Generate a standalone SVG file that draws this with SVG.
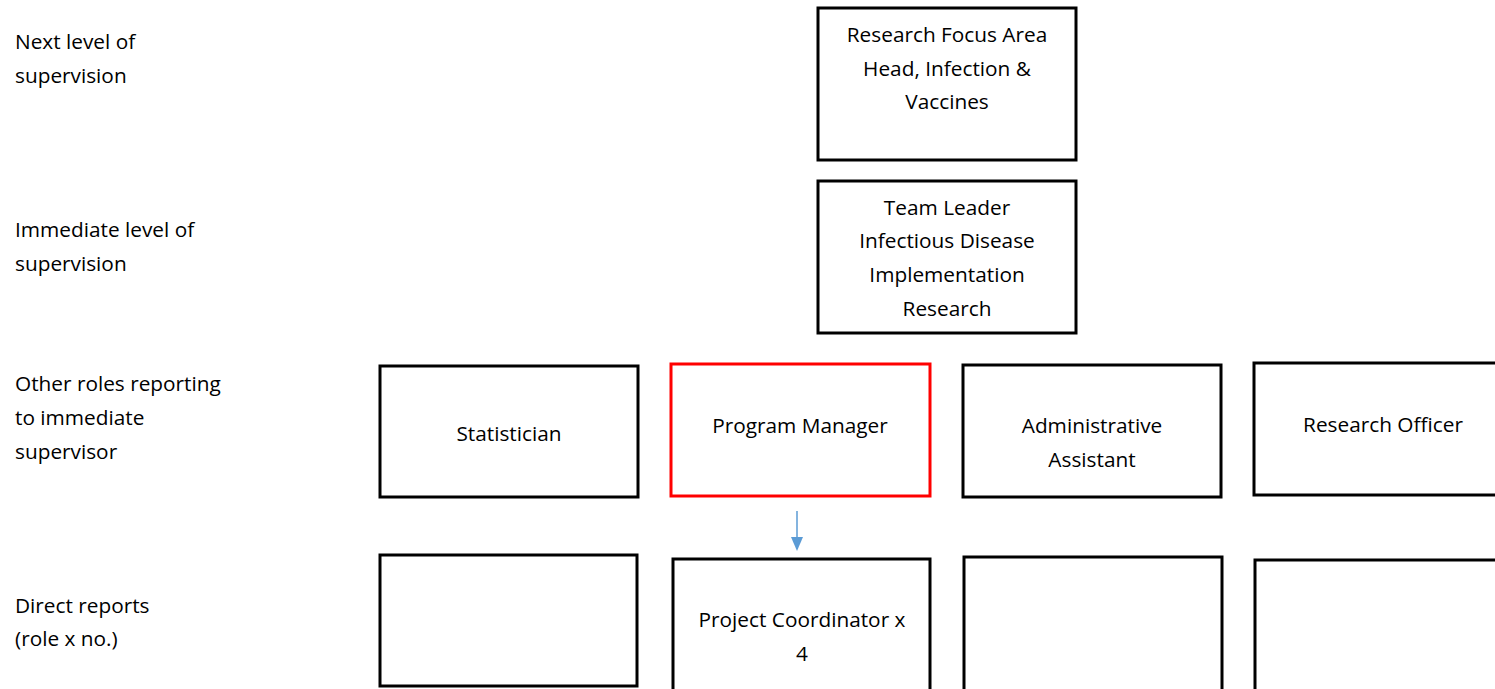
<svg xmlns="http://www.w3.org/2000/svg" width="1495" height="689" viewBox="0 0 1495 689">
<style>
text{font-family:"Open Sans","Noto Sans","Liberation Sans",sans-serif;font-size:20.8px;fill:#000}
.c{text-anchor:middle}
.box{fill:#fff;stroke:#000;stroke-width:3}
.red{fill:#fff;stroke:#f00;stroke-width:3}
</style>
<rect width="1495" height="689" fill="#fff"/>
<g id="labels">
<text x="15" y="49">Next level of</text>
<text x="15" y="83">supervision</text>
<text x="15" y="237">Immediate level of</text>
<text x="15" y="271">supervision</text>
<text x="15" y="391">Other roles reporting</text>
<text x="15" y="425">to immediate</text>
<text x="15" y="459">supervisor</text>
<text x="15" y="613">Direct reports</text>
<text x="15" y="646">(role x no.)</text>
</g>
<g id="connectors">
<line x1="797" y1="511" x2="797" y2="538" stroke="#5B9BD5" stroke-width="1.5"/>
<polygon points="791,537 803,537 797,551" fill="#5B9BD5"/>
</g>
<g id="node-rfa">
<rect class="box" x="818" y="8" width="258" height="152"/>
<text class="c" x="947" y="42">Research Focus Area</text>
<text class="c" x="947" y="76">Head, Infection &amp;</text>
<text class="c" x="947" y="109">Vaccines</text>
</g>
<g id="node-tl">
<rect class="box" x="818" y="181" width="258" height="152"/>
<text class="c" x="947" y="215">Team Leader</text>
<text class="c" x="947" y="248">Infectious Disease</text>
<text class="c" x="947" y="282">Implementation</text>
<text class="c" x="947" y="316">Research</text>
</g>
<g id="node-stat">
<rect class="box" x="380" y="366" width="258" height="131"/>
<text class="c" x="509" y="441">Statistician</text>
</g>
<g id="node-pm">
<rect class="red" x="671" y="364" width="259" height="132"/>
<text class="c" x="800" y="433">Program Manager</text>
</g>
<g id="node-aa">
<rect class="box" x="963" y="365" width="258" height="132"/>
<text class="c" x="1092" y="433">Administrative</text>
<text class="c" x="1092" y="467">Assistant</text>
</g>
<g id="node-ro">
<rect class="box" x="1254" y="363" width="260" height="132"/>
<text class="c" x="1383" y="432">Research Officer</text>
</g>
<g id="node-dr1">
<rect class="box" x="380" y="555" width="257" height="131"/>
</g>
<g id="node-pc">
<rect class="box" x="673" y="559" width="257" height="140"/>
<text class="c" x="802" y="627">Project Coordinator x</text>
<text class="c" x="802" y="661">4</text>
</g>
<g id="node-dr3">
<rect class="box" x="964" y="557" width="258" height="140"/>
</g>
<g id="node-dr4">
<rect class="box" x="1255" y="560" width="260" height="140"/>
</g>
</svg>
